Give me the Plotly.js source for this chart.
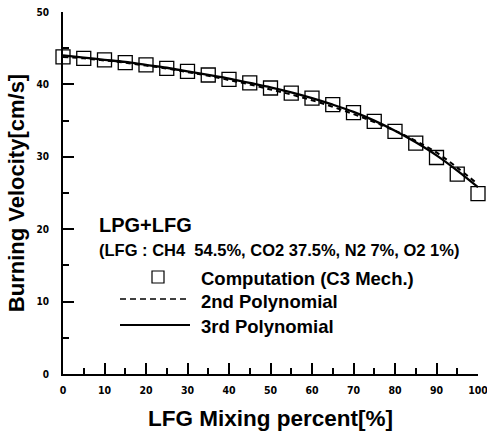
<!DOCTYPE html>
<html>
<head>
<meta charset="utf-8">
<script src="https://cdn.plot.ly/plotly-3.0.1.min.js"></script>
<style>html,body{margin:0;padding:0;background:#fff;}#chart{width:487px;height:433px;}</style>
</head>
<body>
<div id="chart"></div>
<script>
// LFG mixing percent
const mixPercent = [0,5,10,15,20,25,30,35,40,45,50,55,60,65,70,75,80,85,90,95,100];
// Computation (C3 Mech.) burning velocity [cm/s]
const computation = [43.8,43.6,43.4,43.0,42.7,42.2,41.8,41.3,40.7,40.2,39.5,38.8,38.1,37.2,36.1,34.9,33.5,31.9,29.9,27.6,24.9];
// 2nd polynomial fit
const poly2 = [43.8,43.6,43.3,43.0,42.6,42.2,41.7,41.2,40.6,40.0,39.3,38.6,37.8,36.9,35.9,34.8,33.6,32.2,30.6,28.5,26.2];
// 3rd polynomial fit
const poly3 = [44.0,43.7,43.4,43.1,42.7,42.3,41.8,41.3,40.8,40.2,39.6,38.9,38.1,37.2,36.2,35.0,33.6,32.0,30.2,28.1,25.8];
const xTicks = [0,10,20,30,40,50,60,70,80,90,100];
const yTicks = [0,10,20,30,40,50];

const boldFont = "Liberation Sans, Arial, sans-serif";
const narrowFont = "Liberation Sans Narrow, DejaVu Sans Condensed, Liberation Sans, sans-serif";

const L = 63, R = 9, T = 12, B = 59;
const PW = 487 - L - R, PH = 433 - T - B;
const px = v => (v - L) / PW;       // page x -> paper
const py = v => (433 - B - v) / PH; // page y -> paper

const traces = [
  {x: mixPercent, y: poly2, mode: 'lines', line: {color: '#000', width: 2, dash: '5px,4px', shape: 'spline'}, name: '2nd Polynomial', cliponaxis: false},
  {x: mixPercent, y: poly3, mode: 'lines', line: {color: '#000', width: 2.3, shape: 'spline'}, name: '3rd Polynomial', cliponaxis: false},
  {x: mixPercent, y: computation, mode: 'markers', marker: {symbol: 'square-open', size: 14, color: '#000', line: {width: 1.3, color: '#000'}}, name: 'Computation (C3 Mech.)', cliponaxis: false}
];

const layout = {
  width: 487, height: 433,
  margin: {l: L, r: R, t: T, b: B},
  paper_bgcolor: '#fff', plot_bgcolor: '#fff',
  showlegend: false,
  font: {family: boldFont, color: '#000'},
  xaxis: {
    range: [0, 100], showgrid: false, zeroline: false,
    showline: true, linecolor: '#000', linewidth: 2,
    ticks: 'inside', ticklen: 11, tickwidth: 2, tickcolor: '#000',
    tickvals: xTicks, ticktext: xTicks.map(String),
    minor: {ticks: 'inside', ticklen: 6, tickwidth: 2, tickcolor: '#000', dtick: 5, tick0: 0},
    tickfont: {family: narrowFont, size: 10.5, color: '#000', weight: 'bold'},
    ticklabelstandoff: 5,
    ticklabeloverflow: 'allow',
    title: {text: '<b>LFG Mixing percent[%]</b>', font: {family: boldFont, size: 22.5, color: '#000'}, standoff: 16}
  },
  yaxis: {
    range: [0, 50], showgrid: false, zeroline: false,
    showline: true, linecolor: '#000', linewidth: 2,
    ticks: 'inside', ticklen: 11, tickwidth: 2, tickcolor: '#000',
    tickvals: yTicks, ticktext: yTicks.map(String),
    minor: {ticks: 'inside', ticklen: 6, tickwidth: 2, tickcolor: '#000', dtick: 5, tick0: 0},
    tickfont: {family: narrowFont, size: 10, color: '#000', weight: 'bold'},
    ticklabelstandoff: 10,
    ticklabeloverflow: 'allow',
    title: {text: '<b>Burning Velocity[cm/s]</b>', font: {family: boldFont, size: 22, color: '#000'}, standoff: 6}
  },
  shapes: [
    {type: 'line', xref: 'paper', yref: 'paper', x0: px(120), x1: px(190), y0: py(299), y1: py(299), line: {color: '#000', width: 1.5, dash: '6px,4px'}},
    {type: 'line', xref: 'paper', yref: 'paper', x0: px(120), x1: px(190), y0: py(325), y1: py(325), line: {color: '#000', width: 2}},
    {type: 'rect', xref: 'paper', yref: 'paper', x0: px(152), x1: px(164), y0: py(283), y1: py(271), line: {color: '#000', width: 1.2}}
  ],
  annotations: [
    {xref: 'paper', yref: 'paper', x: px(97), y: py(225), xanchor: 'left', yanchor: 'middle', showarrow: false, text: '<b>LPG+LFG</b>', font: {family: boldFont, size: 20, color: '#000'}},
    {xref: 'paper', yref: 'paper', x: px(97), y: py(250), xanchor: 'left', yanchor: 'middle', showarrow: false, text: '<b>(LFG : CH4  54.5%, CO2 37.5%, N2 7%, O2 1%)</b>', font: {family: boldFont, size: 16.5, color: '#000'}},
    {xref: 'paper', yref: 'paper', x: px(199), y: py(278), xanchor: 'left', yanchor: 'middle', showarrow: false, text: '<b>Computation (C3 Mech.)</b>', font: {family: boldFont, size: 18.5, color: '#000'}},
    {xref: 'paper', yref: 'paper', x: px(199), y: py(301), xanchor: 'left', yanchor: 'middle', showarrow: false, text: '<b>2nd Polynomial</b>', font: {family: boldFont, size: 18.5, color: '#000'}},
    {xref: 'paper', yref: 'paper', x: px(199), y: py(326), xanchor: 'left', yanchor: 'middle', showarrow: false, text: '<b>3rd Polynomial</b>', font: {family: boldFont, size: 18.5, color: '#000'}}
  ]
};

Plotly.newPlot('chart', traces, layout, {displayModeBar: false, staticPlot: true});
</script>
</body>
</html>
